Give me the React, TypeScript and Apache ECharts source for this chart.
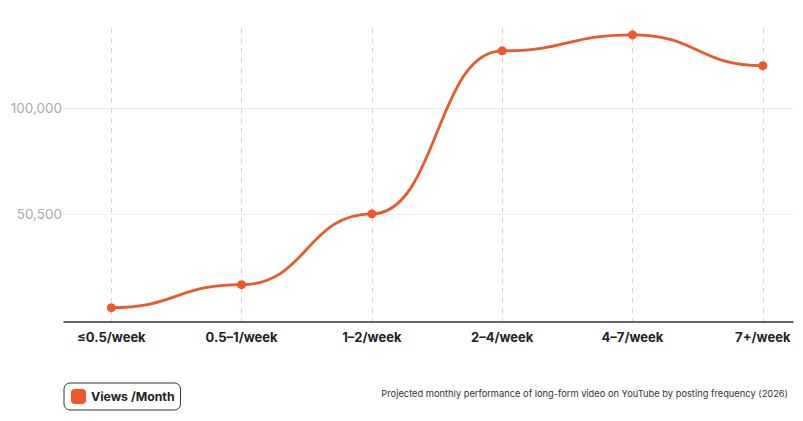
import React, { useEffect, useRef } from "react";
import * as echarts from "echarts";

const categories = ["≤0.5/week", "0.5–1/week", "1–2/week", "2–4/week", "4–7/week", "7+/week"];
const viewsPerMonth = [6500, 17300, 50500, 127000, 134500, 120000];
const yTickValues = [50500, 100000];
const seriesName = "Views /Month";
const caption = "Projected monthly performance of long-form video on YouTube by posting frequency (2026)";

const FONT = "Inter, 'Noto Sans', sans-serif";
const LINE_COLOR = "#e85a2c";

export default function App() {
  const ref = useRef<HTMLDivElement>(null);
  useEffect(() => {
    if (!ref.current) return;
    document.body.style.margin = "0";
    const chart = echarts.init(ref.current, null, { renderer: "svg" });
    const idx = categories.map((_, i) => i);
    const segments = viewsPerMonth.slice(1).map((v, k) => [k + 1, v, viewsPerMonth[k]]);
    chart.setOption({
      animation: false,
      textStyle: { fontFamily: FONT },
      grid: { left: 64, right: 10, top: 28, bottom: 421 - 321.5 },
      title: {
        text: caption,
        right: 10,
        top: 384,
        textStyle: { fontSize: 9.3, fontWeight: "normal", color: "#333", fontFamily: FONT },
      },
      legend: {
        left: 64,
        top: 383,
        data: [seriesName],
        icon: "roundRect",
        itemWidth: 15,
        itemHeight: 15,
        itemGap: 6,
        padding: [6, 6, 6, 7],
        borderColor: "#333",
        borderWidth: 1,
        borderRadius: 6,
        textStyle: { fontSize: 12.3, fontWeight: "bold", color: "#222", fontFamily: FONT },
      },
      xAxis: {
        type: "value",
        min: -0.363,
        max: 5.232,
        axisLine: { show: true, lineStyle: { color: "#333", width: 1.5 } },
        axisTick: { show: false, customValues: idx },
        axisLabel: {
          customValues: idx,
          formatter: (v: number) => categories[Math.round(v)] ?? "",
          color: "#222",
          fontSize: 13,
          fontWeight: "bold",
          margin: 9,
          fontFamily: FONT,
        },
        splitLine: { show: true, lineStyle: { color: "#d6d6d6", type: [5, 5], width: 1 } },
      },
      yAxis: {
        type: "value",
        min: 0,
        max: 137700,
        axisLine: { show: false },
        axisTick: { show: false, customValues: yTickValues },
        axisLabel: {
          customValues: yTickValues,
          formatter: (v: number) => v.toLocaleString("en-US"),
          color: "#aaa",
          fontSize: 13.5,
          margin: 2,
          fontFamily: FONT,
        },
        splitLine: { show: true, lineStyle: { color: "#eeeeee", width: 1 } },
      },
      series: [
        {
          name: "curve",
          type: "custom",
          data: segments,
          z: 2,
          renderItem: (_params: any, api: any) => {
            const p1 = api.coord([api.value(0) - 1, api.value(2)]);
            const p2 = api.coord([api.value(0), api.value(1)]);
            const mx = (p1[0] + p2[0]) / 2;
            return {
              type: "bezierCurve",
              shape: { x1: p1[0], y1: p1[1], x2: p2[0], y2: p2[1], cpx1: mx, cpy1: p1[1], cpx2: mx, cpy2: p2[1] },
              style: { stroke: LINE_COLOR, lineWidth: 2.8, fill: "none" },
            };
          },
        },
        {
          name: seriesName,
          type: "line",
          data: viewsPerMonth.map((v, i) => [i, v]),
          z: 3,
          symbol: "circle",
          symbolSize: 9,
          itemStyle: { color: "#f2572a" },
          lineStyle: { color: LINE_COLOR, width: 0, opacity: 0 },
        },
      ],
    });
    return () => chart.dispose();
  }, []);
  return <div ref={ref} style={{ width: 803, height: 421 }} />;
}
